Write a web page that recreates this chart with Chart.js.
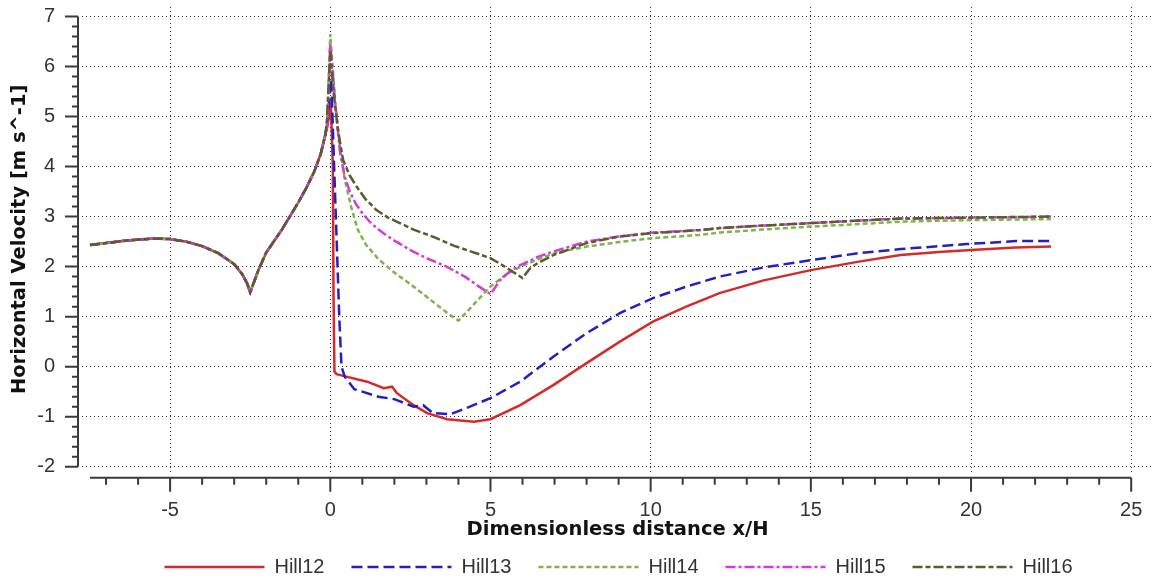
<!DOCTYPE html>
<html>
<head>
<meta charset="utf-8">
<script src="https://cdn.jsdelivr.net/npm/chart.js@4.4.0/dist/chart.umd.min.js"></script>
<style>
  html, body { margin: 0; padding: 0; background: #fff; overflow: hidden; }
</style>
</head>
<body>
<canvas id="velChart" width="1153" height="578"></canvas>
<script>
// shared upstream part (all hills identical before the crest)
const xUp = [-7.5, -7, -6.5, -6, -5.5, -5, -4.5, -4, -3.5, -3, -2.75, -2.6, -2.5, -2.4, -2.25, -2, -1.5, -1, -0.75, -0.5, -0.3, -0.15];
const yUp = [2.43, 2.47, 2.51, 2.54, 2.56, 2.55, 2.50, 2.41, 2.27, 2.05, 1.85, 1.67, 1.49, 1.66, 1.92, 2.28, 2.75, 3.28, 3.57, 3.9, 4.25, 4.65];

// downstream part, one pair per hill
const hill12X = [-0.1, 0.02, 0.08, 0.1, 0.13, 0.2, 0.5, 1.15, 1.67, 1.93, 2.08, 2.6, 3.02, 3.65, 4.48, 5.0, 5.93, 6.96, 8.0, 9.04, 10.07, 11.11, 12.15, 13.5, 15, 16.5, 17.8, 19, 20, 21.4, 22.5];
const hill12Y = [4.78, 5.2, 4.0, 1.5, -0.1, -0.15, -0.2, -0.3, -0.43, -0.4, -0.53, -0.77, -0.93, -1.05, -1.1, -1.05, -0.77, -0.37, 0.07, 0.5, 0.9, 1.2, 1.47, 1.72, 1.93, 2.1, 2.23, 2.29, 2.33, 2.38, 2.4];

const hill13X = [-0.1, 0.03, 0.12, 0.2, 0.28, 0.35, 0.45, 0.75, 1.5, 2.0, 2.6, 2.9, 3.2, 3.75, 4.16, 5.0, 5.93, 6.96, 8.0, 9.04, 10.07, 11.11, 12.15, 13.5, 15, 16.5, 17.8, 19.85, 21.4, 22.5];
const hill13Y = [4.85, 5.75, 4.0, 2.5, 1.0, 0.0, -0.2, -0.45, -0.6, -0.65, -0.8, -0.77, -0.93, -0.95, -0.85, -0.63, -0.3, 0.2, 0.67, 1.07, 1.37, 1.6, 1.8, 1.98, 2.13, 2.27, 2.35, 2.45, 2.51, 2.51];

const hill14X = [-0.1, 0.0, 0.15, 0.3, 0.45, 0.65, 0.85, 1.1, 1.5, 2.0, 2.6, 3.2, 3.7, 4.0, 4.3, 4.6, 5.0, 5.5, 6.0, 6.5, 7.0, 8.0, 9.0, 10.07, 11.5, 12.15, 13.5, 15, 16.5, 17.8, 20, 22.5];
const hill14Y = [4.85, 6.65, 5.3, 4.4, 3.75, 3.2, 2.75, 2.45, 2.15, 1.88, 1.6, 1.3, 1.05, 0.92, 1.12, 1.33, 1.6, 1.85, 2.02, 2.15, 2.27, 2.4, 2.49, 2.57, 2.63, 2.68, 2.74, 2.8, 2.85, 2.9, 2.93, 2.95];

const hill15X = [-0.1, 0.0, 0.15, 0.3, 0.45, 0.61, 0.8, 1.02, 1.3, 1.65, 2.0, 2.5, 3.0, 3.63, 4.2, 4.6, 5.0, 5.3, 5.6, 5.93, 6.5, 6.96, 8.0, 9.0, 10.07, 11.53, 12.15, 13.5, 15, 16.5, 17.8, 20, 22.5];
const hill15Y = [4.8, 6.45, 5.3, 4.3, 3.8, 3.5, 3.25, 3.05, 2.85, 2.67, 2.52, 2.33, 2.17, 2.0, 1.8, 1.62, 1.45, 1.73, 1.9, 2.03, 2.2, 2.3, 2.5, 2.6, 2.68, 2.73, 2.77, 2.82, 2.87, 2.92, 2.96, 2.98, 3.0];

const hill16X = [-0.1, 0.0, 0.1, 0.24, 0.4, 0.6, 0.82, 1.1, 1.44, 1.8, 2.17, 2.6, 3.2, 3.85, 4.4, 5.0, 5.5, 6.0, 6.24, 6.5, 6.96, 8.0, 9.0, 10.07, 11.53, 12.15, 13.5, 15, 16.5, 17.8, 20, 22.5];
const hill16Y = [4.95, 6.3, 5.5, 4.73, 4.13, 3.83, 3.6, 3.35, 3.13, 2.98, 2.87, 2.74, 2.6, 2.42, 2.3, 2.17, 1.98, 1.77, 1.97, 2.08, 2.23, 2.47, 2.6, 2.67, 2.73, 2.77, 2.82, 2.87, 2.92, 2.96, 2.98, 3.0];

const seriesNames = ['Hill12', 'Hill13', 'Hill14', 'Hill15', 'Hill16'];

// axis extents (the drawn axes are shorter than the grid frame)
const xAxisFrom = -7.5, xAxisTo = 25;
const yAxisFrom = -2, yAxisTo = 7;

function buildPoints(xs, ys) {
  const pts = xUp.map((x, i) => ({ x: x, y: yUp[i] }));
  xs.forEach((x, i) => pts.push({ x: x, y: ys[i] }));
  return pts;
}

const tickFont = { family: 'Liberation Sans', size: 20 };
const titleFont = { family: 'DejaVu Sans', size: 19.5, weight: 'bold' };

// axes sit a little away from the grid, like the original plot
const detachedAxes = {
  id: 'detachedAxes',
  afterLayout(chart) {
    // legend row sits a bit right of centre and close under the axis title
    const lg = chart.legend;
    lg.left += 42; lg.right += 42;
    lg.top = chart.scales.x.bottom - 12;
    lg.bottom = chart.height;
  },
  afterDraw(chart) {
    const { ctx, scales: { x, y } } = chart;
    const axX = x.getPixelForValue(xAxisFrom) - 12;
    const axY = y.getPixelForValue(yAxisFrom) + 11;
    ctx.save();
    ctx.strokeStyle = '#3a3a3a';
    ctx.lineWidth = 2;
    ctx.beginPath();
    // y axis
    ctx.moveTo(axX, y.getPixelForValue(yAxisTo));
    ctx.lineTo(axX, y.getPixelForValue(yAxisFrom));
    for (let i = yAxisFrom * 5; i <= yAxisTo * 5; i++) {
      const py = y.getPixelForValue(i / 5);
      const len = i % 5 === 0 ? 13 : 6;
      ctx.moveTo(axX - len, py);
      ctx.lineTo(axX, py);
    }
    // x axis
    ctx.moveTo(x.getPixelForValue(xAxisFrom), axY);
    ctx.lineTo(x.getPixelForValue(xAxisTo), axY);
    for (let v = Math.ceil(xAxisFrom); v <= xAxisTo; v++) {
      const px = x.getPixelForValue(v);
      const len = v % 5 === 0 ? 14 : 7;
      ctx.moveTo(px, axY);
      ctx.lineTo(px, axY + len);
    }
    ctx.stroke();
    ctx.restore();
  }
};

const colors = ['#d42a2a', '#2020c4', '#7cb548', '#d43cd4', '#5b5b2e'];
const dashes = [[], [11, 5], [5, 3], [10, 3, 3, 3], [10, 3, 5, 3]];
const xsList = [hill12X, hill13X, hill14X, hill15X, hill16X];
const ysList = [hill12Y, hill13Y, hill14Y, hill15Y, hill16Y];

new Chart(document.getElementById('velChart'), {
  type: 'line',
  data: {
    datasets: seriesNames.map((name, i) => ({
      label: name,
      data: buildPoints(xsList[i], ysList[i]),
      borderColor: colors[i],
      backgroundColor: colors[i],
      borderDash: dashes[i],
      order: seriesNames.length - i   // later hills drawn on top
    }))
  },
  options: {
    responsive: false,
    animation: false,
    layout: { padding: { top: 7, left: 0, right: 0, bottom: 0 } },
    elements: {
      point: { radius: 0 },
      line: { borderWidth: 2.5, tension: 0 }
    },
    scales: {
      x: {
        type: 'linear',
        min: -7.75,
        max: 25.68,
        afterFit: s => { s.height = 70.3; s.paddingLeft = 0; s.paddingRight = 0; },
        grid: { color: '#333', lineWidth: 1, drawTicks: false },
        border: { display: false, dash: [1, 3] },
        ticks: { stepSize: 5, includeBounds: false, padding: 27, maxRotation: 0, font: tickFont, color: '#333' },
        title: { display: true, text: 'Dimensionless distance x/H', font: titleFont, color: '#111', padding: 0 }
      },
      y: {
        type: 'linear',
        min: -2.1,
        max: 7.19,
        afterFit: s => { s.width = 82; s.paddingTop = 0; s.paddingBottom = 0; },
        grid: { color: '#333', lineWidth: 1, drawTicks: false },
        border: { display: false, dash: [1, 3] },
        ticks: { stepSize: 1, includeBounds: false, padding: 27, font: tickFont, color: '#333' },
        title: { display: true, text: 'Horizontal Velocity [m s^-1]', font: titleFont, color: '#111', padding: { top: 8, bottom: 0 } }
      }
    },
    plugins: {
      legend: {
        position: 'bottom',
        maxHeight: 36,
        labels: {
          usePointStyle: true,
          pointStyle: 'line',
          pointStyleWidth: 100,
          padding: 27,
          font: tickFont,
          color: '#333',
          sort: (a, b) => a.datasetIndex - b.datasetIndex,
          generateLabels(chart) {
            const items = Chart.defaults.plugins.legend.labels.generateLabels(chart);
            items.forEach(it => {
              const ds = chart.data.datasets[it.datasetIndex];
              it.strokeStyle = ds.borderColor;
              it.lineWidth = 2.5;
              it.lineDash = ds.borderDash;
            });
            return items;
          }
        }
      },
      tooltip: { enabled: false }
    }
  },
  plugins: [detachedAxes]
});
</script>
</body>
</html>
